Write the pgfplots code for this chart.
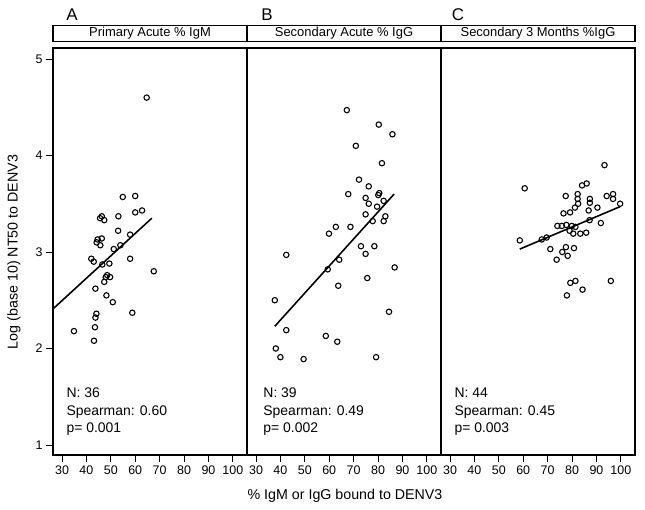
\documentclass[border=0pt]{standalone}
\usepackage{fontspec}
\setmainfont{Liberation Sans}
\usepackage{pgfplots}
\pgfplotsset{compat=1.18}
\pgfplotsset{
  panel/.style={
    scale only axis, width=194bp, height=407bp,
    xmin=26.31, xmax=105.8, ymin=0.896, ymax=5.114,
    xtick={30,40,...,100},
    tick align=outside, xtick pos=bottom, ytick pos=left,
    major tick length=7bp,
    axis line style={line width=1.2bp},
    tick style={line width=0.9bp, black},
    ticklabel style={font=\fontsize{12.5}{13}\selectfont},
    /pgf/number format/assume math mode=true,
    title style={at={(0.5,1)}, anchor=south, yshift=0pt, draw, line width=1.2bp,
      minimum width=194bp, minimum height=16bp, inner sep=0pt,
      font=\fontsize{13}{14}\selectfont},
    anchor=south west,
  },
  pts/.style={only marks, mark=o, mark size=2.7bp, mark options={line width=1.1bp, black}},
  reg/.style={no marks, line width=1.6bp, black},
}
\newcommand{\annfont}{\fontsize{14}{15}\selectfont}
\begin{document}
\begin{tikzpicture}
\path[use as bounding box] (0,0) rectangle (645bp,510bp);
% Panel A
\begin{axis}[panel, at={(53bp,55bp)}, ytick={1,2,3,4,5}, title={Primary Acute \% IgM}]
\addplot[pts] table {
x y
64.7 4.60
54.9 3.57
60.0 3.58
46.3 3.37
45.6 3.35
53.1 3.37
60.0 3.41
62.8 3.43
47.3 3.33
53.0 3.22
44.6 3.13
46.3 3.14
45.7 3.07
57.9 3.18
51.2 3.03
53.9 3.07
42.0 2.93
43.0 2.90
46.5 2.87
49.4 2.88
57.9 2.93
67.6 2.80
47.9 2.74
49.7 2.74
48.5 2.76
47.3 2.69
43.7 2.62
48.2 2.55
50.8 2.48
58.8 2.37
44.1 2.36
43.7 2.32
43.5 2.22
34.9 2.18
43.1 2.08
44.2 3.10
};
\addplot[reg] coordinates {(26.31,2.41) (66.8,3.35)};
\node[anchor=base west, font=\annfont] at (axis cs:30.4,1.492) {N: 36};
\node[anchor=base west, font=\annfont] at (axis cs:30.4,1.306) {Spearman: 0.60};
\node[anchor=base west, font=\annfont] at (axis cs:30.4,1.130) {p= 0.001};
\end{axis}
% Panel B
\begin{axis}[panel, at={(247bp,55bp)}, ytick=\empty, title={Secondary Acute \% IgG}]
\addplot[pts] table {
x y
67.2 4.47
80.3 4.32
85.9 4.22
70.9 4.10
81.6 3.92
72.2 3.75
76.2 3.68
67.8 3.60
74.9 3.56
80.1 3.59
80.5 3.61
76.2 3.50
79.6 3.47
82.3 3.53
74.9 3.39
83.0 3.37
77.8 3.32
82.3 3.32
59.9 3.19
62.7 3.26
68.7 3.26
42.4 2.97
73.0 3.06
78.5 3.06
74.9 2.98
64.1 2.92
59.4 2.82
86.8 2.84
75.6 2.73
63.7 2.65
37.7 2.50
84.5 2.38
42.4 2.19
58.6 2.13
63.3 2.07
38.1 2.00
40.0 1.91
49.5 1.89
79.2 1.91
};
\addplot[reg] coordinates {(37.7,2.23) (86.6,3.60)};
\node[anchor=base west, font=\annfont] at (axis cs:31.6,1.492) {N: 39};
\node[anchor=base west, font=\annfont] at (axis cs:31.6,1.306) {Spearman: 0.49};
\node[anchor=base west, font=\annfont] at (axis cs:31.6,1.130) {p= 0.002};
\end{axis}
% Panel C
\begin{axis}[panel, at={(441bp,55bp)}, ytick=\empty, title={Secondary 3 Months \%IgG}]
\addplot[pts] table {
x y
93.3 3.90
60.6 3.66
84.1 3.69
86.0 3.71
77.4 3.58
82.3 3.60
82.3 3.55
87.3 3.55
87.3 3.51
94.2 3.58
96.8 3.60
96.8 3.55
99.7 3.50
82.5 3.50
81.2 3.46
90.4 3.46
86.8 3.43
76.5 3.40
79.2 3.41
58.6 3.12
67.6 3.13
69.6 3.15
74.0 3.27
75.8 3.27
77.7 3.28
79.9 3.27
81.4 3.26
80.5 3.19
83.4 3.19
85.8 3.20
91.8 3.30
87.2 3.33
71.1 3.03
77.5 3.05
80.8 3.04
76.0 3.00
78.2 2.96
73.7 2.92
79.3 2.68
81.4 2.70
95.9 2.70
84.3 2.61
77.9 2.55
79.0 3.22
};
\addplot[reg] coordinates {(58.6,3.03) (99.7,3.47)};
\node[anchor=base west, font=\annfont] at (axis cs:30.4,1.492) {N: 44};
\node[anchor=base west, font=\annfont] at (axis cs:30.4,1.306) {Spearman: 0.45};
\node[anchor=base west, font=\annfont] at (axis cs:30.4,1.130) {p= 0.003};
\end{axis}
% Panel letters and labels
\node[font=\fontsize{17}{19}\selectfont] at (72bp,495bp) {A};
\node[font=\fontsize{17}{19}\selectfont] at (267bp,495bp) {B};
\node[font=\fontsize{17}{19}\selectfont] at (458bp,495bp) {C};
\node[font=\fontsize{14.3}{15}\selectfont] at (345bp,14bp) {\% IgM or IgG bound to DENV3};
\node[font=\fontsize{14.3}{15}\selectfont, rotate=90] at (14bp,258bp) {Log (base 10) NT50 to DENV3};
\end{tikzpicture}
\end{document}
